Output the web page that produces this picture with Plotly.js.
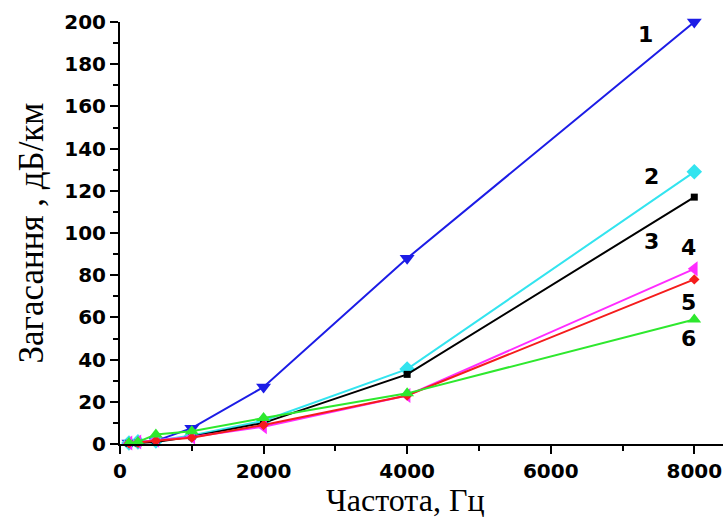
<!DOCTYPE html>
<html>
<head>
<meta charset="utf-8">
<script src="https://cdn.plot.ly/plotly-3.0.1.min.js"></script>
<style>
  html, body { margin: 0; padding: 0; background: #fff; }
  #chart { width: 723px; height: 528px; }
</style>
</head>
<body>
<div id="chart"></div>
<script>
// Frequencies, Hz
const freq = [125, 250, 500, 1000, 2000, 4000, 8000];

// Attenuation, dB/km, for each curve
const curve1 = [0.5, 0.8, 1.5, 7.5, 27, 88, 200];
const curve2 = [0.5, 1.0, 1.5, 4.0, 11, 35.5, 129];
const curve3 = [0.3, 0.5, 1.0, 3.5, 10, 33, 117];
const curve4 = [0.5, 1.0, 1.8, 3.3, 8.2, 23, 83];
const curve5 = [0.3, 0.6, 1.5, 3.0, 9, 23, 78];
const curve6 = [0.5, 1.0, 4.5, 6.0, 12.3, 24, 59];

const curveLabels = ['1', '2', '3', '4', '5', '6'];
const labelX = [7320, 7400, 7400, 7920, 7920, 7920];
const labelY = [194, 127, 96, 93, 67, 50];

const series = [
  { y: curve1, color: '#1c1ce6', symbol: 'triangle-down', size: 13 },
  { y: curve2, color: '#33e4ef', symbol: 'diamond', size: 12 },
  { y: curve3, color: '#000000', symbol: 'square', size: 7 },
  { y: curve4, color: '#ff2cff', symbol: 'triangle-left', size: 13 },
  { y: curve5, color: '#f51c1c', symbol: 'diamond', size: 8 },
  { y: curve6, color: '#2ee82e', symbol: 'triangle-up', size: 12 }
];

const traces = series.map(s => ({
  x: freq,
  y: s.y,
  type: 'scatter',
  mode: 'lines+markers',
  line: { color: s.color, width: 2 },
  marker: { color: s.color, symbol: s.symbol, size: s.size },
  cliponaxis: false,
  showlegend: false
}));

const annotations = curveLabels.map((t, i) => ({
  x: labelX[i],
  y: labelY[i],
  xref: 'x',
  yref: 'y',
  text: t,
  showarrow: false,
  font: { family: 'DejaVu Sans, sans-serif', size: 22, color: '#000', weight: 'bold' }
}));

const tickFont = { family: 'DejaVu Sans, sans-serif', size: 20, color: '#000', weight: 'bold' };
const xTitleFont = { family: 'Liberation Serif, Times New Roman, serif', size: 32, color: '#000' };
const yTitleFont = { family: 'Liberation Serif, Times New Roman, serif', size: 35, color: '#000' };

// x-axis caption, centred a little left of the plot-area centre
annotations.push({
  xref: 'paper',
  yref: 'paper',
  x: (405 - 120) / 603,
  y: -0.0,
  yshift: -56,
  xanchor: 'center',
  yanchor: 'middle',
  text: 'Частота, Гц',
  showarrow: false,
  font: xTitleFont
});

const layout = {
  width: 723,
  height: 528,
  margin: { l: 120, r: 0, t: 22, b: 84 },
  paper_bgcolor: '#fff',
  plot_bgcolor: '#fff',
  xaxis: {
    range: [0, 8400],
    showgrid: false,
    zeroline: false,
    showline: true,
    linecolor: '#000',
    linewidth: 2,
    ticks: 'outside',
    ticklen: 8,
    tickwidth: 2,
    tickcolor: '#000',
    dtick: 2000,
    tick0: 0,
    tickfont: tickFont,
    minor: { dtick: 1000, ticks: 'outside', ticklen: 5, tickwidth: 2, tickcolor: '#000', showgrid: false }
  },
  yaxis: {
    range: [0, 200],
    showgrid: false,
    zeroline: false,
    showline: true,
    linecolor: '#000',
    linewidth: 2,
    ticks: 'outside',
    ticklen: 8,
    tickwidth: 2,
    tickcolor: '#000',
    dtick: 20,
    tick0: 0,
    tickfont: tickFont,
    minor: { dtick: 10, ticks: 'outside', ticklen: 5, tickwidth: 2, tickcolor: '#000', showgrid: false },
    title: { text: 'Загасання , дБ/км', font: yTitleFont, standoff: 10 }
  },
  annotations: annotations
};

Plotly.newPlot('chart', traces, layout, { displayModeBar: false, staticPlot: true });
</script>
</body>
</html>
